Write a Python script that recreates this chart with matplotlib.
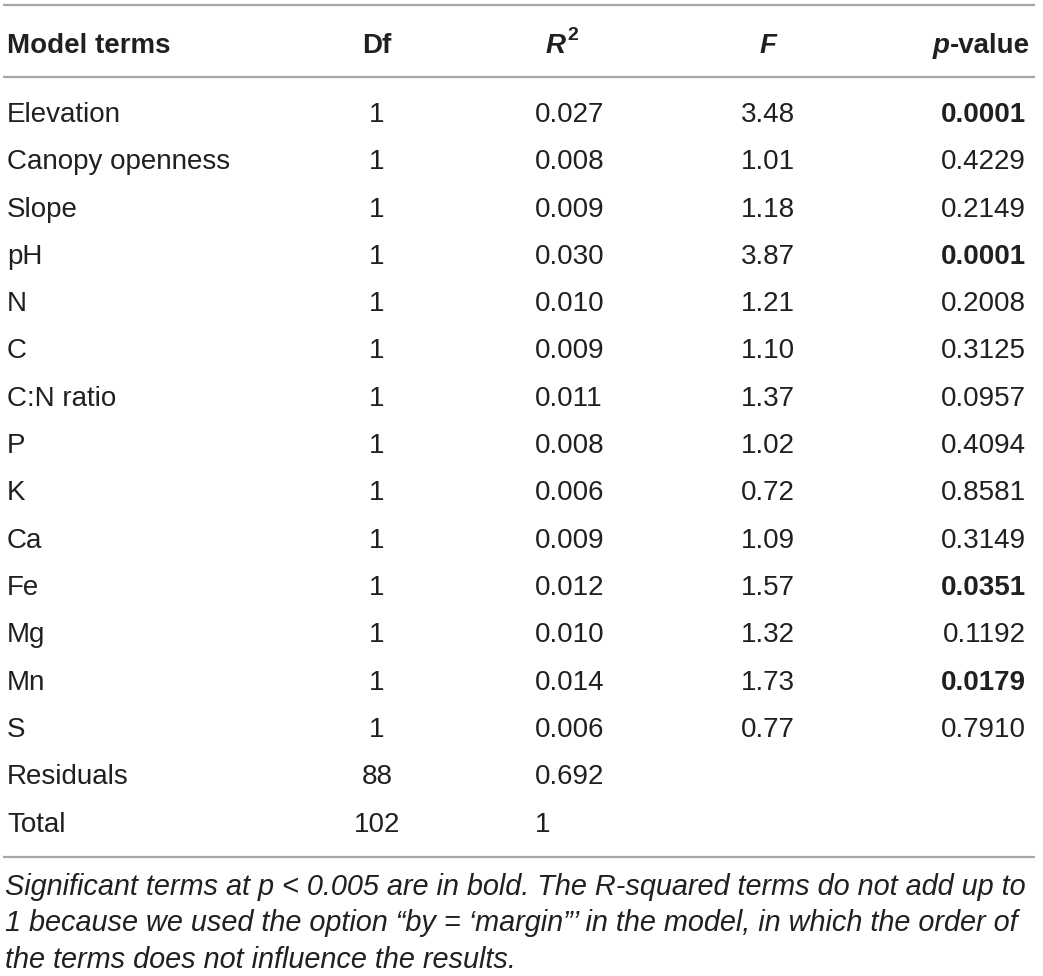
"""
Recreate PERMANOVA model table as a matplotlib figure.
"""
import matplotlib
matplotlib.use("Agg")
import matplotlib.pyplot as plt

# ---------------------------------------------------------------------------
# Table data
# ---------------------------------------------------------------------------

terms = ["Elevation", "Canopy openness", "Slope", "pH", "N", "C", "C:N ratio",
         "P", "K", "Ca", "Fe", "Mg", "Mn", "S", "Residuals", "Total"]
df_vals = ["1"] * 14 + ["88", "102"]
r2_vals = ["0.027", "0.008", "0.009", "0.030", "0.010", "0.009", "0.011",
           "0.008", "0.006", "0.009", "0.012", "0.010", "0.014", "0.006",
           "0.692", "1"]
f_vals = ["3.48", "1.01", "1.18", "3.87", "1.21", "1.10", "1.37", "1.02",
          "0.72", "1.09", "1.57", "1.32", "1.73", "0.77", "", ""]
p_vals = ["0.0001", "0.4229", "0.2149", "0.0001", "0.2008", "0.3125", "0.0957",
          "0.4094", "0.8581", "0.3149", "0.0351", "0.1192", "0.0179", "0.7910",
          "", ""]
p_bold = [True, False, False, True, False, False, False, False, False, False,
          True, False, True, False, False, False]

footnote = [
    "Significant terms at p < 0.005 are in bold. The R-squared terms do not add up to",
    "1 because we used the option \u201cby = \u2018margin\u201d\u2019 in the model, in which the order of",
    "the terms does not influence the results.",
]

# ---------------------------------------------------------------------------
# Layout (pixel coordinates, y measured from top)
# ---------------------------------------------------------------------------

W, H = 1043, 976
TXT = "#231f20"
RULE = "#a6a6a6"
FS = 20
FONT = "Liberation Sans"

fig = plt.figure(figsize=(W / 100, H / 100), dpi=100)
ax = fig.add_axes([0, 0, 1, 1])
ax.set_xlim(0, W)
ax.set_ylim(H, 0)
ax.axis("off")

x_term, x_df, x_r2, x_f, x_p = 7, 377, 535, 768, 1026


def put(x, y, s, ha="left", fs=FS, va="center_baseline", **kw):
    return ax.text(x, y, s, ha=ha, va=va, fontsize=fs,
                   family=FONT, color=TXT, **kw)


# rules
for y in (5, 77, 857):
    ax.plot([3, 1035], [y, y], color=RULE, lw=1.6, solid_capstyle="butt")

# header
y_head = 43
put(x_term, y_head, "Model terms", weight="bold")
put(x_df, y_head, "Df", ha="center", weight="bold")
put(566, y_head, "R", ha="right", weight="bold", style="italic")
put(567, y_head - 10, "2", fs=14, weight="bold")
put(x_f, y_head, "F", ha="center", weight="bold", style="italic")
put(1030, y_head, "-value", ha="right", weight="bold")
put(1030 - 80, y_head, "p", ha="right", weight="bold", style="italic")

y0, step = 112, 47.3
for i, term in enumerate(terms):
    y = y0 + i * step
    put(x_term, y, term)
    put(x_df, y, df_vals[i], ha="center")
    put(x_r2, y, r2_vals[i])
    if f_vals[i]:
        put(x_f, y, f_vals[i], ha="center")
    if p_vals[i]:
        put(x_p, y, p_vals[i], ha="right",
            weight="bold" if p_bold[i] else "normal")

for j, line in enumerate(footnote):
    put(x_term - 2, 895 + j * 36.3, line, fs=20.8, va="baseline",
        style="italic")

fig.savefig("out.png", dpi=100)
